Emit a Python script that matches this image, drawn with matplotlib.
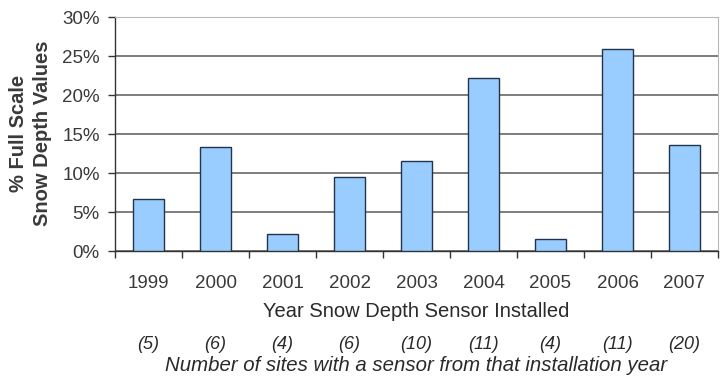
import numpy as np
import matplotlib.pyplot as plt
from matplotlib.transforms import blended_transform_factory
from matplotlib.ticker import PercentFormatter, FixedLocator

plt.rcParams['font.family'] = ['Liberation Sans', 'DejaVu Sans']

years = ['1999', '2000', '2001', '2002', '2003', '2004', '2005', '2006', '2007']
pct_full_scale = [6.7, 13.4, 2.2, 9.5, 11.6, 22.2, 1.5, 26.0, 13.6]
site_counts = [5, 6, 4, 6, 10, 11, 4, 11, 20]

W, H = 720, 377
fig = plt.figure(figsize=(W / 100, H / 100), dpi=100)
ax = fig.add_axes([115 / W, 1 - 251 / H, 603 / W, 233.5 / H])

text_col = '#3a3a3a'

x = np.arange(len(years))
ax.bar(x, pct_full_scale, width=0.45, color='#99ccff', edgecolor='#22344c',
       linewidth=1.0, zorder=3)

ax.set_xlim(-0.5, len(years) - 0.5)
ax.set_ylim(0, 30)
ax.set_yticks(np.arange(0, 31, 5))
ax.yaxis.set_major_formatter(PercentFormatter(decimals=0))
ax.grid(axis='y', color='#5a5a5a', linewidth=1.1, zorder=0)

# category ticks sit between the bars, year labels under the bars
ax.set_xticks(x)
ax.set_xticklabels(years)
ax.xaxis.set_minor_locator(FixedLocator(np.arange(-0.5, len(years), 1.0)))
ax.tick_params(axis='x', which='major', length=0, pad=17, labelsize=13.5,
               labelcolor=text_col)
ax.tick_params(axis='x', which='minor', length=5, width=1, color='#333333')
ax.tick_params(axis='y', length=5, width=1, color='#333333', labelsize=13.5,
               labelcolor=text_col, pad=6)

for side in ('top', 'right'):
    ax.spines[side].set_color('#b8b8b8')
for side in ('left', 'bottom'):
    ax.spines[side].set_color('#333333')
    ax.spines[side].set_linewidth(1.0)

# y axis title, two rotated lines
fig.text(19 / W, 1 - 133 / H, '% Full Scale', rotation=90, ha='center',
         va='center', fontsize=14.5, fontweight='bold', color=text_col)
fig.text(43 / W, 1 - 133 / H, 'Snow Depth Values', rotation=90, ha='center',
         va='center', fontsize=14.5, fontweight='bold', color=text_col)

cx = (115 + 718) / 2 / W
fig.text(cx, 1 - 317 / H, 'Year Snow Depth Sensor Installed', ha='center',
         va='baseline', fontsize=14.5, color='#2a2a2a')

trans = blended_transform_factory(ax.transData, fig.transFigure)
for xi, n in zip(x, site_counts):
    ax.text(xi, 1 - 349 / H, f'({n})', transform=trans, ha='center',
            va='baseline', fontsize=13, style='italic', color='#2a2a2a')
fig.text(cx, 1 - 371 / H,
         'Number of sites with a sensor from that installation year',
         ha='center', va='baseline', fontsize=14.7, style='italic',
         color='#2a2a2a')

fig.savefig('out.png', dpi=100)
